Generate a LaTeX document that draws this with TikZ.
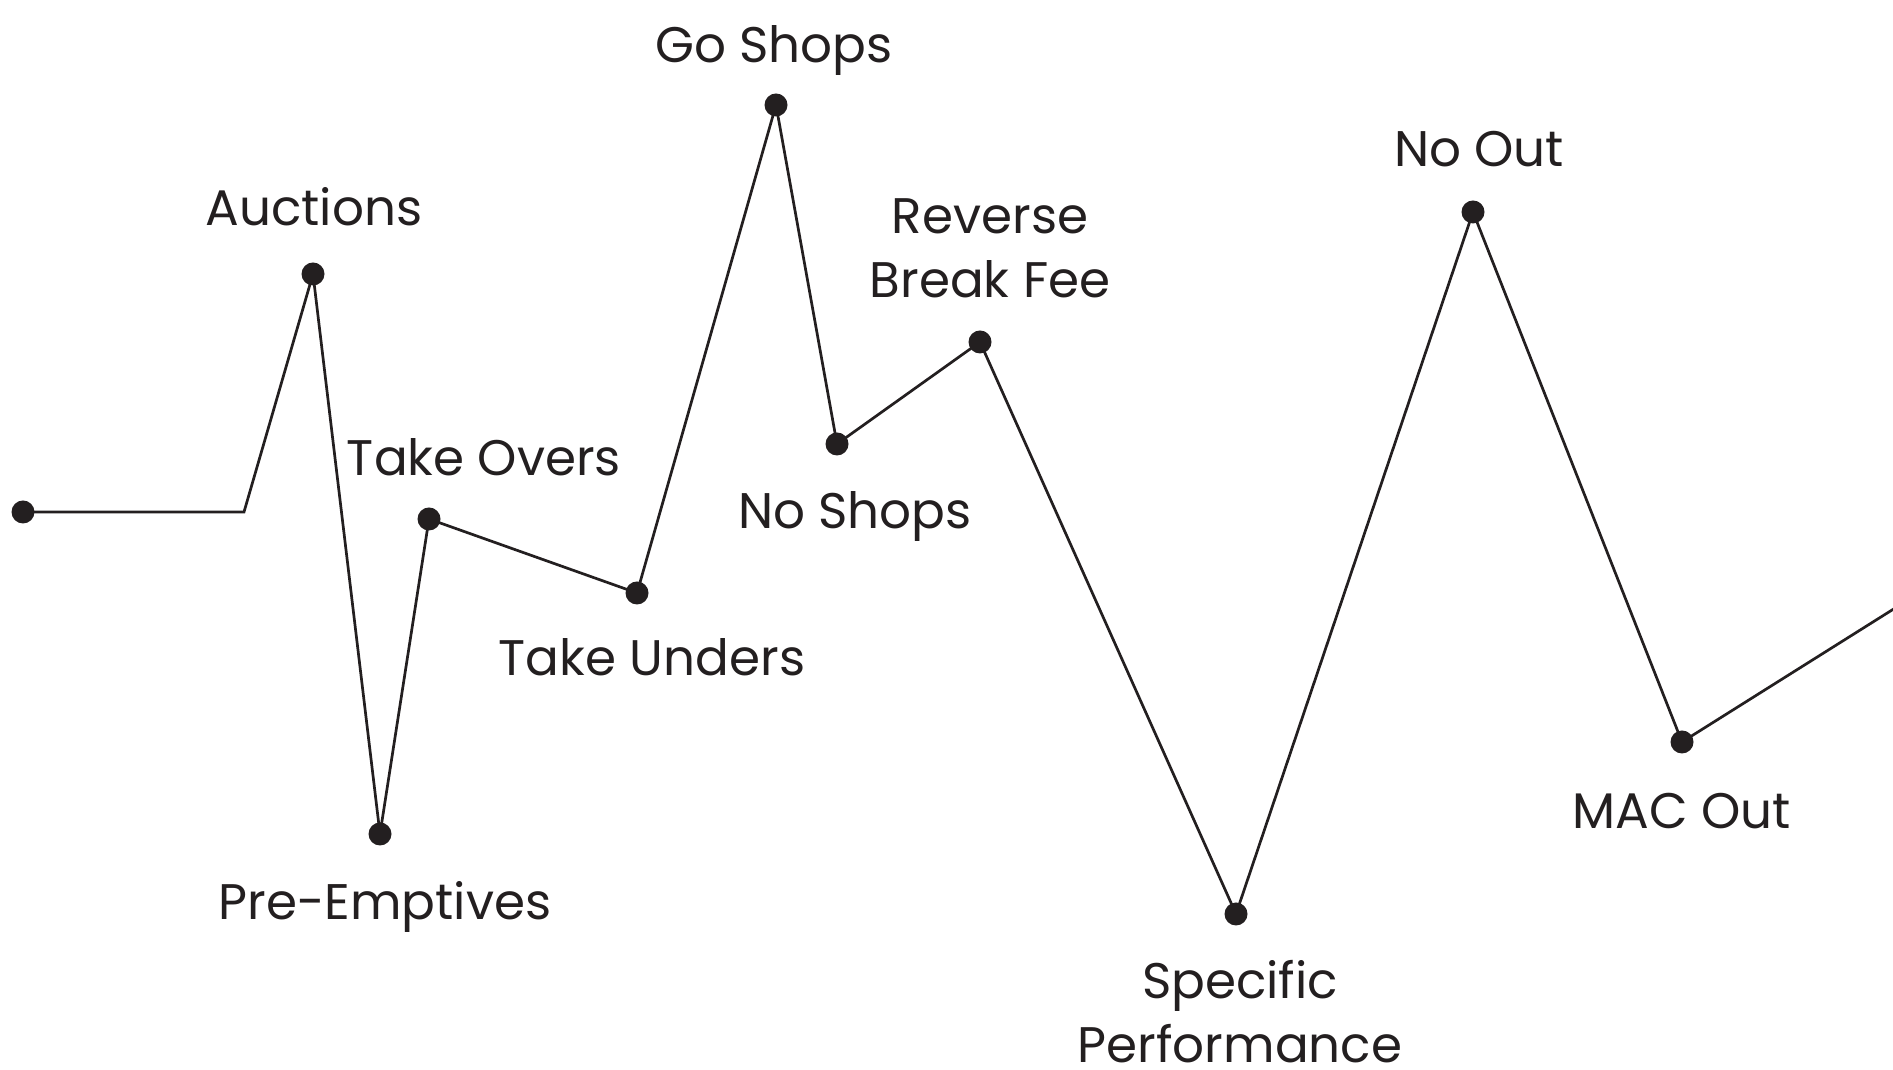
\documentclass[tikz,border=0pt]{standalone}
\usepackage{fontspec}
\setmainfont{Poppins}
\usepackage{xcolor}
\usetikzlibrary{backgrounds}
\definecolor{ink}{HTML}{231F20}
\tikzset{
  dot/.style={circle, fill=ink, draw=none, inner sep=0pt, minimum size=23pt},
  lbl/.style={font=\fontsize{50}{64}\selectfont, text=ink, inner sep=0pt, align=center},
  zig/.style={draw=ink, line width=2.7pt, line join=miter}
}

\begin{document}
\begin{tikzpicture}[x=1pt,y=1pt]
\useasboundingbox (0,0) rectangle (1893,1070);

% points of the line
\node[dot] (start) at (23,558) {};
\coordinate (bend) at (244,558);
\node[dot] (auctions) at (313,796) {};
\node[dot] (preempt) at (380,236) {};
\node[dot] (takeover) at (429,551) {};
\node[dot] (takeunder) at (637,477) {};
\node[dot] (goshop) at (776,965) {};
\node[dot] (noshop) at (837,626) {};
\node[dot] (revfee) at (980,728) {};
\node[dot] (specperf) at (1236,156) {};
\node[dot] (noout) at (1473,858) {};
\node[dot] (macout) at (1682,328) {};
\coordinate (exit) at (1900,465);

% labels
\node[lbl, anchor=base] (auctionsL) at (314,844) {Auctions};
\node[lbl, anchor=base] (preemptL) at (385,150) {Pre-Emptives};
\node[lbl, anchor=base] (takeoverL) at (484,594) {Take Overs};
\node[lbl, anchor=base] (takeunderL) at (652,394) {Take Unders};
\node[lbl, anchor=base] (goshopL) at (774,1007) {Go Shops};
\node[lbl, anchor=base] (noshopL) at (855,541) {No Shops};
\node[lbl] (revfeeL) at (990,822) {Reverse\\Break Fee};
\node[lbl] (specperfL) at (1240,58) {Specific\\Performance};
\node[lbl, anchor=base] (nooutL) at (1479,903) {No Out};
\node[lbl, anchor=base] (macoutL) at (1682,241) {MAC Out};

\begin{scope}[on background layer]
\draw[zig] (start.center) -- (bend) -- (auctions.center) -- (preempt.center)
  -- (takeover.center) -- (takeunder.center) -- (goshop.center) -- (noshop.center)
  -- (revfee.center) -- (specperf.center) -- (noout.center) -- (macout.center) -- (exit);
\end{scope}

\end{tikzpicture}
\end{document}
